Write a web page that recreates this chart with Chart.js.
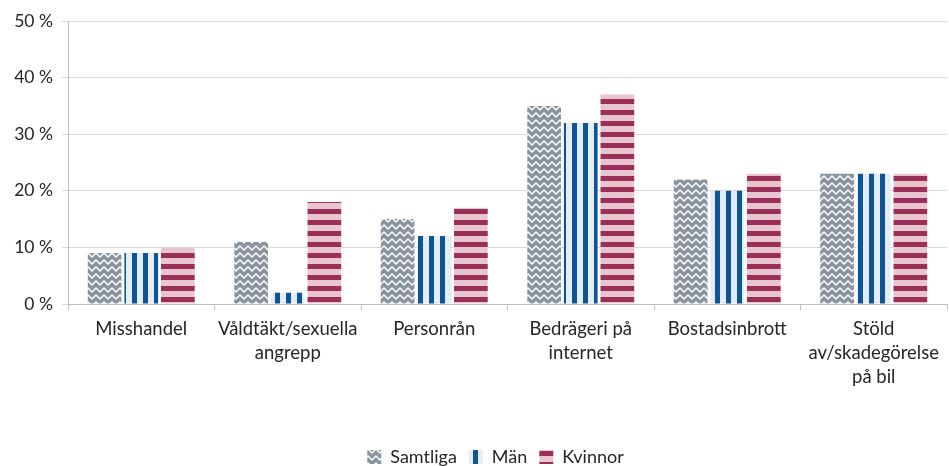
<!DOCTYPE html>
<html>
<head>
<meta charset="utf-8">
<script src="https://cdn.jsdelivr.net/npm/chart.js@4"></script>
<style>
  html, body { margin: 0; padding: 0; background: #ffffff; }
  #wrap { width: 949px; height: 466px; }
</style>
</head>
<body>
<div id="wrap"><canvas id="brott" width="949" height="466"></canvas></div>
<script>
/* data */
const kategorier = [
  'Misshandel',
  ['Våldtäkt/sexuella', 'angrepp'],
  'Personrån',
  ['Bedrägeri på', 'internet'],
  'Bostadsinbrott',
  ['Stöld', 'av/skadegörelse', 'på bil']
];
const samtliga = [9, 11, 15, 35, 22, 23];
const man = [9, 2, 12, 32, 20, 23];
const kvinnor = [10, 18, 17, 37, 23, 23];
const yTicks = [0, 10, 20, 30, 40, 50];

/* patterns */
function makePattern(w, h, draw) {
  const c = document.createElement('canvas');
  c.width = w;
  c.height = h;
  const ctx = c.getContext('2d');
  draw(ctx, w, h);
  return ctx.createPattern(c, 'repeat');
}

const ctxMain = document.getElementById('brott').getContext('2d');

const zigzag = makePattern(8, 7, (ctx, w, h) => {
  ctx.fillStyle = '#8994a0';
  ctx.fillRect(0, 0, w, h);
  ctx.strokeStyle = '#ffffff';
  ctx.lineWidth = 1.4;
  ctx.beginPath();
  ctx.moveTo(-1, 1);
  ctx.lineTo(0, 1);
  ctx.lineTo(4, 5);
  ctx.lineTo(8, 1);
  ctx.lineTo(9, 1);
  ctx.stroke();
});

const vStripes = makePattern(11, 4, (ctx, w, h) => {
  ctx.fillStyle = '#e6ecf5';
  ctx.fillRect(0, 0, w, h);
  ctx.fillStyle = '#0c5596';
  ctx.fillRect(0, 0, 5, h);
});

const hStripes = makePattern(4, 11, (ctx, w, h) => {
  ctx.fillStyle = '#e9c5d2';
  ctx.fillRect(0, 0, w, h);
  ctx.fillStyle = '#9a2f58';
  ctx.fillRect(0, 0, w, 5);
});

// legend sits low and a bit right of centre
const legendPlace = {
  id: 'legendPlace',
  afterInit(chart) {
    const lg = chart.legend;
    const fit = lg.fit;
    lg.fit = function () {
      fit.call(lg);
      lg.height = 30;
    };
  },
  afterLayout(chart) {
    chart.legend.left += 22;
    chart.legend.right += 22;
  }
};

new Chart(ctxMain, {
  type: 'bar',
  data: {
    labels: kategorier,
    datasets: [
      { label: 'Samtliga', data: samtliga, backgroundColor: zigzag, borderWidth: 0 },
      { label: 'Män', data: man, backgroundColor: vStripes, borderWidth: 0 },
      { label: 'Kvinnor', data: kvinnor, backgroundColor: hStripes, borderWidth: 0 }
    ]
  },
  plugins: [legendPlace],
  options: {
    responsive: false,
    animation: false,
    layout: { padding: { top: 21, right: 2, left: 0, bottom: 0 } },
    datasets: {
      bar: { categoryPercentage: 0.75, barPercentage: 0.92 }
    },
    plugins: {
      tooltip: { enabled: false },
      legend: {
        position: 'bottom',
        labels: {
          font: { family: 'Lato', size: 18 },
          color: '#262626',
          boxWidth: 14,
          boxHeight: 14,
          padding: 12
        }
      }
    },
    scales: {
      x: {
        grid: {
          offset: true,
          drawOnChartArea: false,
          drawTicks: true,
          tickLength: 6,
          color: '#bfbfbf'
        },
        border: { color: '#bfbfbf' },
        ticks: {
          font: { family: 'Lato', size: 18.5, lineHeight: 1.3 },
          color: '#262626',
          padding: 7,
          maxRotation: 0,
          autoSkip: false
        },
        afterFit(scale) { scale.height = 132; }
      },
      y: {
        min: 0,
        max: 50,
        afterBuildTicks(scale) {
          scale.ticks = yTicks.map(v => ({ value: v }));
        },
        grid: { color: '#d9d9d9', tickLength: 6 },
        border: { color: '#bfbfbf' },
        ticks: {
          font: { family: 'Lato', size: 17.5 },
          color: '#262626',
          padding: 9,
          callback: v => v + ' %'
        },
        afterFit(scale) { scale.width = 68; }
      }
    }
  }
});
</script>
</body>
</html>
